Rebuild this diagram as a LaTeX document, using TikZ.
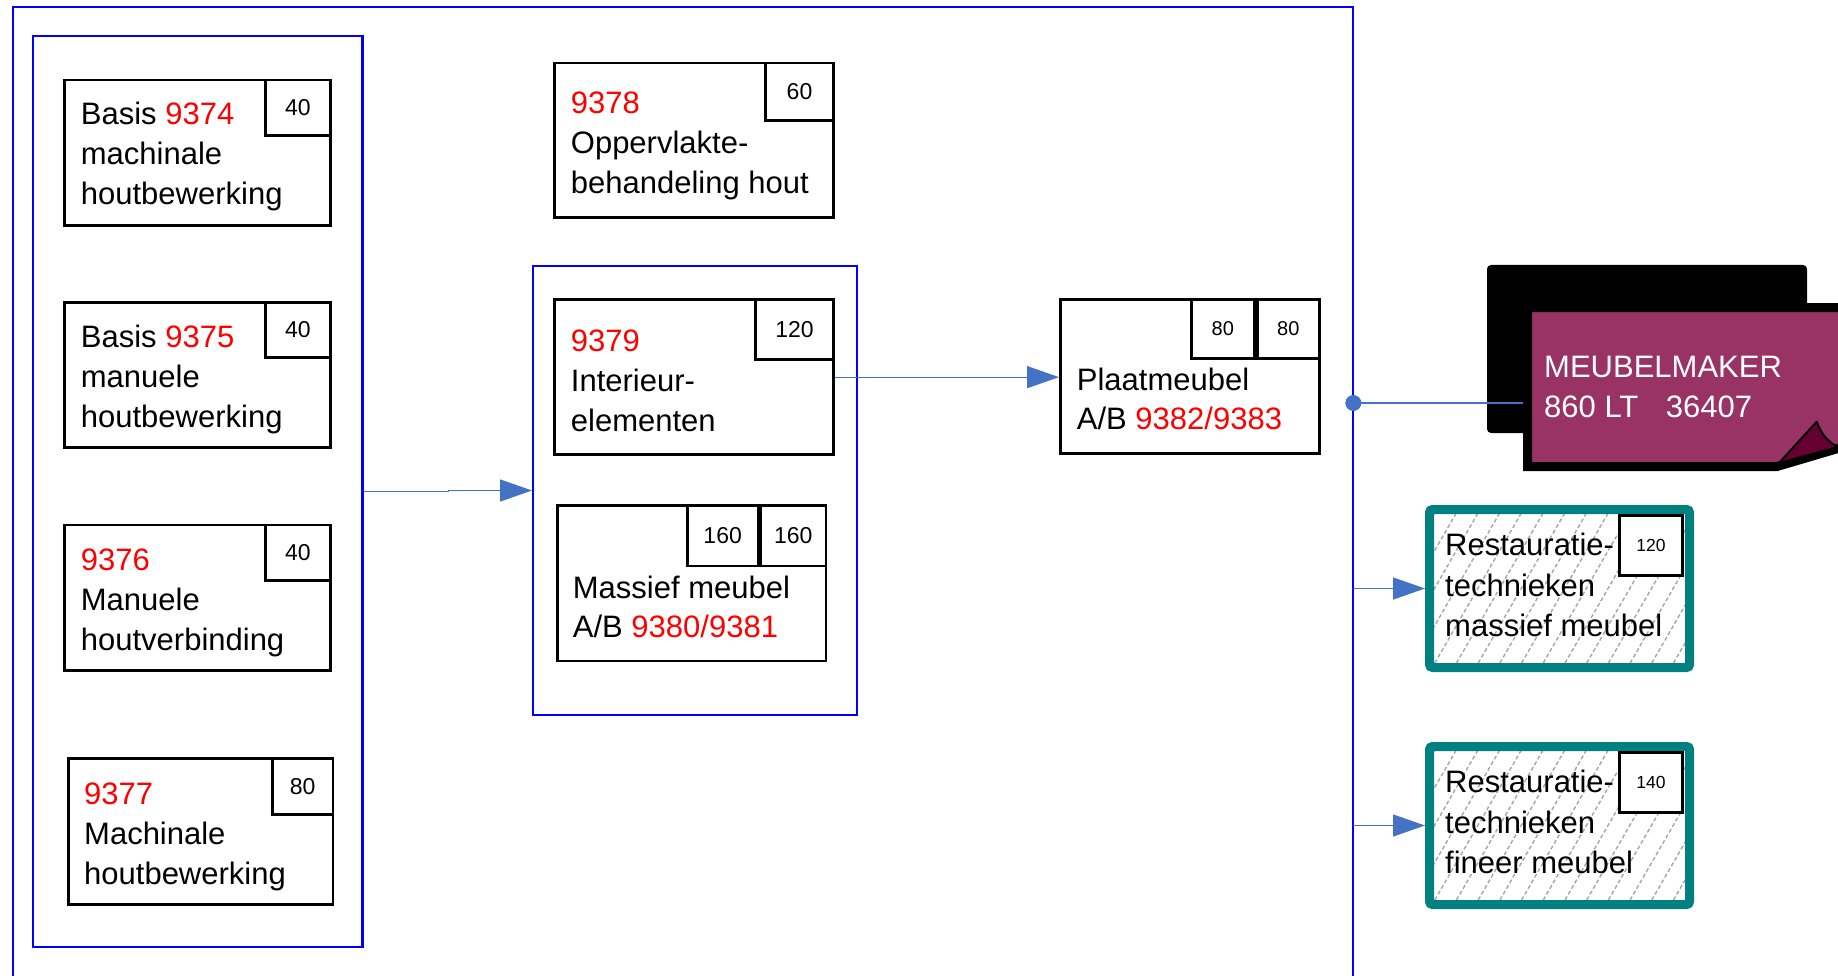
\documentclass[tikz,border=0pt]{standalone}
\usepackage{fontspec}
\setmainfont{Liberation Sans}
\usetikzlibrary{arrows.meta}
\definecolor{conn}{HTML}{4472C4}
\definecolor{tealb}{HTML}{008080}
\definecolor{plum}{HTML}{993366}
\definecolor{plumdark}{HTML}{660033}
\definecolor{hatchgray}{HTML}{A6A6A6}
\begin{document}
\begin{tikzpicture}[x=1pt,y=-1pt,
  bx/.style={draw=black, line width=2.8pt, fill=white, inner sep=0pt, outer sep=1.4pt, anchor=north west},
  txt/.style={font=\fontsize{31}{40}\selectfont, align=left, anchor=base west, inner sep=0pt},
  num/.style={font=\fontsize{23}{23}\selectfont},
  numsm/.style={font=\fontsize{20}{20}\selectfont},
  numxs/.style={font=\fontsize{17.5}{17.5}\selectfont},
  bluebox/.style={draw=blue, line width=2.3pt, inner sep=0pt, outer sep=1.15pt, anchor=north west},
  connline/.style={draw=conn, line width=1.3pt},
  arr/.style={connline, -{Triangle[length=32pt,width=22pt]}},
  restbox/.style={draw=tealb, line width=9pt, rounded corners=3pt, inner sep=0pt, outer sep=4.5pt, anchor=north west, minimum width=260pt, minimum height=158pt},
  hatch/.style={draw=hatchgray, line width=1.4pt, dash pattern=on 4pt off 2.5pt}
]
\useasboundingbox (0,0) rectangle (1838,976);

% outer frame (open at the bottom)
\draw[blue, line width=2.3pt] (12.7,990) -- (12.7,6.7) -- (1353.3,6.7) -- (1353.3,990);
\coordinate (fdot) at (1353.3,403);
\coordinate (fr1) at (1353.3,588.5);
\coordinate (fr2) at (1353.3,825.5);

% left group (text anchors are at the baseline of the last line)
\node[bluebox, minimum width=329.3pt, minimum height=910.7pt] (lb) at (32,35) {};
\node[bx, minimum width=265.6pt, minimum height=145.2pt] (b74) at (63.3,78.7) {};
\node[bx, num, minimum width=64.9pt, minimum height=55.2pt] (b74n) at (264,78.7) {40};
\node[txt] (b74t) at (80.7,205) {Basis \textcolor{red}{9374}\\machinale\\houtbewerking};

\node[bx, minimum width=265.6pt, minimum height=145.2pt] (b75) at (63.3,301) {};
\node[bx, num, minimum width=64.9pt, minimum height=55.2pt] (b75n) at (264,301) {40};
\node[txt] (b75t) at (80.7,427.3) {Basis \textcolor{red}{9375}\\manuele\\houtbewerking};

\node[bx, minimum width=265.6pt, minimum height=145.2pt] (b76) at (63.3,523.5) {};
\node[bx, num, minimum width=64.9pt, minimum height=55.2pt] (b76n) at (264,523.5) {40};
\node[txt] (b76t) at (80.7,650) {\textcolor{red}{9376}\\Manuele\\houtverbinding};

\node[bx, minimum width=264.1pt, minimum height=146.2pt] (b77) at (67.4,757) {};
\node[bx, num, minimum width=60.5pt, minimum height=56.2pt] (b77n) at (271,757) {80};
\node[txt] (b77t) at (84,884) {\textcolor{red}{9377}\\Machinale\\houtbewerking};

% top middle
\node[bx, minimum width=278.9pt, minimum height=154.5pt] (b78) at (553.3,61.7) {};
\node[bx, num, minimum width=68.2pt, minimum height=57.2pt] (b78n) at (764,61.7) {60};
\node[txt] (b78t) at (570.7,193.5) {\textcolor{red}{9378}\\Oppervlakte-\\behandeling hout};

% middle group
\node[bluebox, minimum width=323.7pt, minimum height=448.7pt] (mb) at (532,265) {};
\node[bx, minimum width=278.9pt, minimum height=154.9pt] (b79) at (553.3,298.3) {};
\node[bx, num, minimum width=78.2pt, minimum height=59.6pt] (b79n) at (754,298.3) {120};
\node[txt] (b79t) at (570.7,431) {\textcolor{red}{9379}\\Interieur-\\elementen};

\node[bx, minimum width=268.8pt, minimum height=155.2pt] (b80) at (555.7,504.3) {};
\node[bx, num, minimum width=70.5pt, minimum height=60.2pt] (b80n) at (686,504.3) {160};
\node[bx, num, minimum width=65.2pt, minimum height=60.2pt] (b81n) at (759.3,504.3) {160};
\node[txt, font=\fontsize{31}{39}\selectfont] (b80t) at (572.7,637.3) {Massief meubel\\A/B \textcolor{red}{9380/9381}};

% Plaatmeubel
\node[bx, minimum width=259.2pt, minimum height=154.5pt] (b82) at (1059,297.7) {};
\node[bx, numsm, minimum width=62.9pt, minimum height=59.5pt] (b82n) at (1190,297.7) {80};
\node[bx, numsm, minimum width=62.5pt, minimum height=59.5pt] (b83n) at (1255.7,297.7) {80};
\node[txt, font=\fontsize{31}{39}\selectfont] (b82t) at (1076.7,429) {Plaatmeubel\\A/B \textcolor{red}{9382/9383}};

% connectors
\draw[arr] (lb.east) -- ++(85,0) |- (mb.west);
\draw[arr] (b79.east) -- (b79.east -| b82.west);

% MEUBELMAKER
\fill[black, rounded corners=4pt] (1487,265) rectangle (1807,433);
\coordinate (mkin) at (1528,403);
\draw[connline] (fdot) -- (mkin);
\draw[black, line width=9pt, fill=plum, line join=miter]
  (1527.5,307.5) -- (1843,307.5) -- (1843,447) -- (1777,466.5) -- (1527.5,466.5) -- cycle;
\draw[black, line width=2pt, fill=plumdark, line join=round]
  (1779,463) -- (1816.7,421.7) .. controls (1821,434) and (1828,442) .. (1838,447) -- cycle;
\node[txt, text=white] (mk) at (1544,417) {MEUBELMAKER\\860 LT\hspace{27.5pt}36407};
\node[circle, fill=conn, minimum size=16pt, inner sep=0pt] (dot) at (fdot) {};

% Restauratie boxes
\foreach \yy in {505,742}{
  \begin{scope}
    \clip (1434,\yy+9) rectangle (1685,\yy+158);
    \foreach \i in {0,...,17}
      \draw[hatch] (1348+\i*21.7,\yy+158) -- (1434+\i*21.7,\yy+9);
  \end{scope}
}
\node[restbox] (r1) at (1425,505) {};
\node[restbox] (r2) at (1425,742) {};
\node[bx, numxs, minimum width=63.2pt, minimum height=60.2pt] (r1n) at (1618,514) {120};
\node[bx, numxs, minimum width=63.2pt, minimum height=60.2pt] (r2n) at (1618,751) {140};
\node[txt, font=\fontsize{31}{40.5}\selectfont] (r1t) at (1445,636.5) {Restauratie-\\technieken\\massief meubel};
\node[txt, font=\fontsize{31}{40.5}\selectfont] (r2t) at (1445,873.5) {Restauratie-\\technieken\\fineer meubel};
\draw[arr] (fr1) -- (r1.west);
\draw[arr] (fr2) -- (r2.west);
\end{tikzpicture}
\end{document}
